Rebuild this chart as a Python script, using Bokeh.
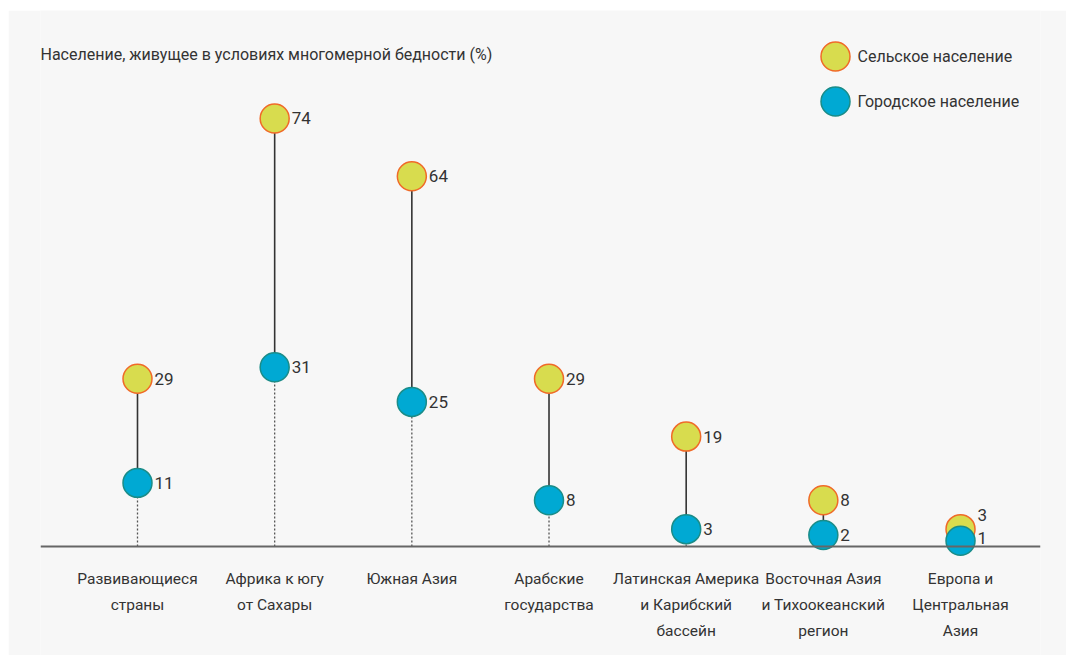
from bokeh.plotting import figure
from bokeh.models import Span, Range1d, ColumnDataSource
from bokeh.core.properties import value
from bokeh.embed import file_html
from bokeh.resources import INLINE

categories = ["Развивающиеся\nстраны", "Африка к югу\nот Сахары", "Южная Азия",
              "Арабские\nгосударства", "Латинская Америка\nи Карибский\nбассейн",
              "Восточная Азия\nи Тихоокеанский\nрегион", "Европа и\nЦентральная\nАзия"]
rural = [29, 74, 64, 29, 19, 8, 3]
urban = [11, 31, 25, 8, 3, 2, 1]
rural_label_dy = [0, 0, 0, 0, 0, 0, -14]
urban_label_dy = [0, 0, 0, 0, 0, 0, -3]

FONT = "Roboto"
MX, MY = 8, 10          # page offset of the panel
W, H = 1058, 645
FL, FR = 32, 26          # frame borders
sx = 137.17
sy = 5.784
x0 = -(137 - 40) / sx
x1 = x0 + (W - FL - FR) / sx
y1 = (546 - MY) / sy
y0 = y1 - H / sy

def X(px):
    return x0 + (px - MX - FL) / sx

def Y(py):
    return y1 - (py - MY) / sy

p = figure(width=W, height=H, output_backend="svg", toolbar_location=None,
           x_range=Range1d(x0, x1), y_range=Range1d(y0, y1),
           x_axis_type=None, y_axis_type=None,
           min_border_left=FL, min_border_right=FR, min_border_top=0, min_border_bottom=0)
p.margin = (MY, 0, 0, MX)
p.background_fill_color = "#f7f7f7"
p.border_fill_color = "#f7f7f7"
p.outline_line_color = None
p.grid.visible = False

idx = list(range(len(categories)))
src = ColumnDataSource(dict(x=idx, rural=rural, urban=urban, zero=[0] * len(idx),
                            cat=categories,
                            rl=[str(v) for v in rural], ul=[str(v) for v in urban],
                            rdy=rural_label_dy, udy=urban_label_dy))

p.add_layout(Span(location=0, dimension="width", line_color="#666666", line_width=2))

p.segment(x0="x", y0="zero", x1="x", y1="urban", source=src, line_color="#555555",
          line_width=1.3, line_dash="2 2")
p.segment(x0="x", y0="urban", x1="x", y1="rural", source=src, line_color="#333333",
          line_width=1.6)

RF, RL = "#d8dc4e", "#f06a28"
UF, UL = "#00a9d3", "#1a8c88"
p.scatter(x="x", y="rural", source=src, size=29, fill_color=RF, line_color=RL, line_width=1.5)
p.scatter(x="x", y="urban", source=src, size=29, fill_color=UF, line_color=UL, line_width=1.5)

lab = dict(text_font=value(FONT), text_font_size="17px", text_color="#333333",
           text_baseline="middle", x_offset=17)
p.text(x="x", y="rural", text="rl", y_offset="rdy", source=src, **lab)
p.text(x="x", y="urban", text="ul", y_offset="udy", source=src, **lab)

p.text(x="x", y=Y(569), text="cat", source=src, text_font=value(FONT), text_font_size="15.5px",
       text_color="#333333", text_align="center", text_baseline="top", text_line_height=1.46)

# title
p.text(x=[X(40)], y=[Y(54)], text=["Население, живущее в условиях многомерной бедности (%)"],
       text_font=value(FONT), text_font_size="16px", text_color="#333333",
       text_baseline="middle")

# legend
p.scatter(x=[X(835)], y=[Y(56)], size=29, fill_color=RF, line_color=RL, line_width=1.5)
p.scatter(x=[X(835)], y=[Y(101)], size=29, fill_color=UF, line_color=UL, line_width=1.5)
p.text(x=[X(857), X(857)], y=[Y(56), Y(101)], text=["Сельское население", "Городское население"],
       text_font=value(FONT), text_font_size="16px", text_color="#333333", text_baseline="middle")

open("out.html", "w").write(file_html(p, INLINE))
